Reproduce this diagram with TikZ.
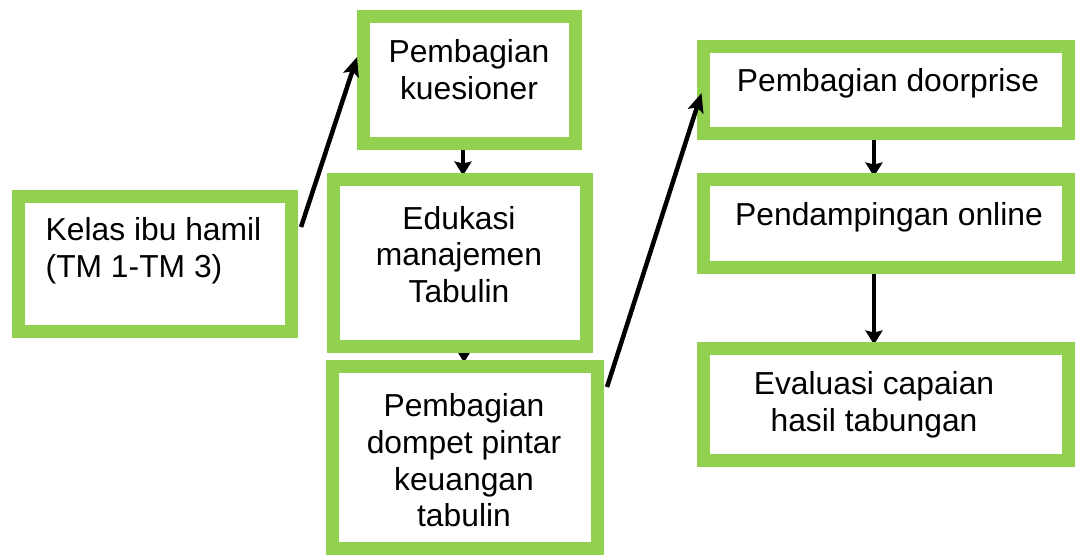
\documentclass[tikz,border=0pt]{standalone}
\usepackage{fontspec}
\setmainfont{Liberation Sans}
\usetikzlibrary{arrows.meta,backgrounds}
\definecolor{boxgreen}{RGB}{146,208,80}
\tikzset{
  gbox/.style={draw=boxgreen, line width=13pt, rectangle, inner sep=0pt},
  txt/.style={font=\fontsize{31.8pt}{36.6pt}\selectfont, align=center, inner sep=0pt},
  flow/.style={line width=4.5pt, -{Stealth[length=14pt,width=17pt,inset=2pt]}},
  diag/.style={line width=4.5pt, -{Stealth[length=19pt,width=16pt,inset=4pt]}},
}
\begin{document}
\begin{tikzpicture}[x=1pt,y=-1pt]
\useasboundingbox (0,0) rectangle (1079,557);
% boxes
\node[gbox, minimum width=273pt, minimum height=135pt] (b1) at (155,264) {};
\node[gbox, minimum width=212pt, minimum height=127pt] (b2) at (469.5,80) {};
\node[gbox, minimum width=253pt, minimum height=167pt] (b3) at (460,263) {};
\node[gbox, minimum width=265pt, minimum height=182pt] (b4) at (465,457.5) {};
\node[gbox, minimum width=365pt, minimum height=87pt] (b5) at (886,90) {};
\node[gbox, minimum width=365pt, minimum height=88pt] (b6) at (886,223.5) {};
\node[gbox, minimum width=365pt, minimum height=112pt] (b7) at (886,404.5) {};
% texts
\node[txt, align=left] (t1) at (153.5,251) {Kelas ibu hamil\\(TM 1-TM 3)};
\node[txt] (t2) at (469,69.5) {Pembagian\\kuesioner};
\node[txt] (t3) at (459,254.5) {Edukasi\\manajemen\\Tabulin};
\node[txt] (t4) at (464,460.5) {Pembagian\\dompet pintar\\keuangan\\tabulin};
\node[txt] (t5) at (888,83.5) {Pembagian doorprise};
\node[txt] (t6) at (889,217.5) {Pendampingan online};
\node[txt] (t7) at (874,405) {Evaluasi capaian\\hasil tabungan};
% vertical arrows (heads partly under the boxes)
\begin{pgfonlayer}{background}
\draw[flow] ([xshift=-6.5pt]b2.south) -- ([xshift=-6.5pt,yshift=-2.5pt]b2.south |- b3.north);
\draw[flow] ([xshift=4pt]b3.south) -- ([xshift=4pt,yshift=-2.5pt]b3.south |- b4.north);
\draw[flow] ([xshift=-12pt]b5.south) -- ([xshift=-12pt,yshift=-3.5pt]b5.south |- b6.north);
\draw[flow] ([xshift=-12pt]b6.south) -- ([xshift=-12pt,yshift=-2.5pt]b6.south |- b7.north);
\end{pgfonlayer}
% diagonal arrows
\draw[diag] ([xshift=3pt,yshift=37pt]b1.east) -- ([yshift=23pt]b2.west);
\draw[diag] ([xshift=3pt,yshift=70.5pt]b4.east) -- ([xshift=4.5pt,yshift=-3pt]b5.west);
\end{tikzpicture}
\end{document}
